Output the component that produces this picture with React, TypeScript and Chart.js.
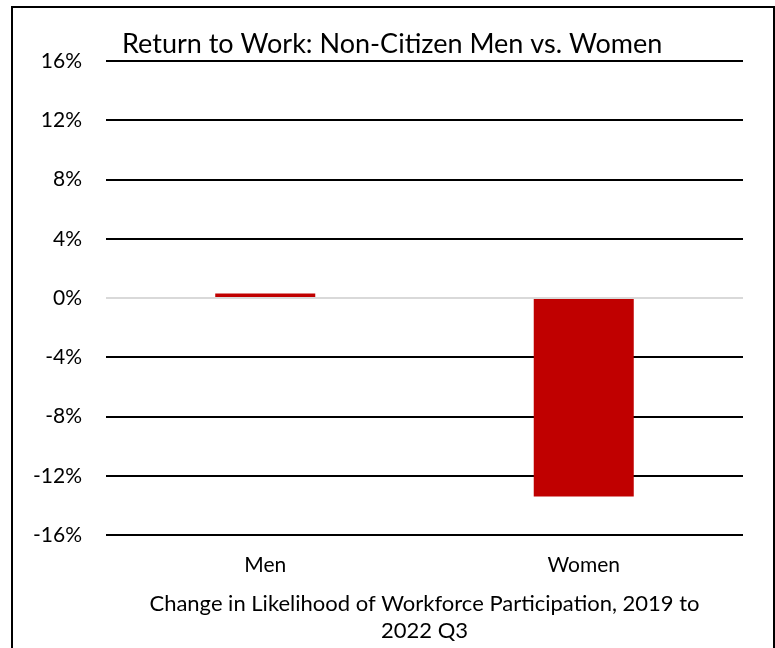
import React, { useEffect, useRef } from "react";
import { Chart, registerables } from "chart.js";

Chart.register(...registerables);

const categories = ["Men", "Women"];
const changeValues = [0.3, -13.4];
const yMin = -16;
const yMax = 16;
const yStep = 4;
const chartTitle = "Return to Work: Non-Citizen Men vs. Women";
const xAxisTitle = ["Change in Likelihood of Workforce Participation, 2019 to", "2022 Q3"];

const FONT = "Lato, 'Liberation Sans', sans-serif";

const titlePlugin = {
  id: "leftTitle",
  afterDraw(chart: any) {
    const { ctx, chartArea } = chart;
    ctx.save();
    ctx.font = `27px ${FONT}`;
    ctx.fillStyle = "#000";
    ctx.textAlign = "left";
    ctx.textBaseline = "alphabetic";
    ctx.fillText(chartTitle, chartArea.left + 16, chartArea.top - 8);
    ctx.restore();
  },
};

export default function App() {
  const ref = useRef<HTMLCanvasElement | null>(null);

  useEffect(() => {
    if (!ref.current) return;
    const chart = new Chart(ref.current, {
      type: "bar",
      data: {
        labels: categories,
        datasets: [
          {
            data: changeValues,
            backgroundColor: "#C00000",
            borderWidth: 0,
            categoryPercentage: 1,
            barPercentage: 0.314,
          },
        ],
      },
      options: {
        responsive: false,
        animation: false,
        layout: { padding: { top: 61, right: 32, bottom: 0, left: 0 } },
        plugins: {
          legend: { display: false },
          tooltip: { enabled: false },
          title: { display: false },
        },
        scales: {
          x: {
            grid: { display: false, drawTicks: false },
            border: { display: false },
            ticks: {
              color: "#000",
              font: { family: FONT, size: 21 },
              padding: 18,
            },
            title: {
              display: true,
              text: xAxisTitle,
              color: "#000",
              font: { family: FONT, size: 22, lineHeight: 1.24 },
              padding: { top: 0, bottom: 3 },
            },
            afterFit: (s: any) => {
              s.height = 113;
            },
          },
          y: {
            min: yMin,
            max: yMax,
            grid: {
              drawTicks: false,
              tickLength: 0,
              lineWidth: 2,
              color: (c: any) => (c.tick && c.tick.value === 0 ? "#D9D9D9" : "#000"),
            },
            border: { display: false },
            ticks: {
              stepSize: yStep,
              color: "#000",
              font: { family: FONT, size: 21 },
              padding: 24,
              callback: (v: any) => `${v}%`,
            },
            afterFit: (s: any) => {
              s.width = 106;
            },
          },
        },
      },
      plugins: [titlePlugin],
    });
    return () => chart.destroy();
  }, []);

  return (
    <div style={{ position: "absolute", left: 0, top: 0, width: 775, height: 648, overflow: "hidden", background: "#fff" }}>
      <canvas ref={ref} width={775} height={648} style={{ position: "absolute", left: 0, top: 0 }} />
      <div
        style={{
          position: "absolute",
          left: 11,
          top: 6,
          width: 764,
          height: 700,
          border: "2px solid #000",
          boxSizing: "border-box",
          pointerEvents: "none",
        }}
      />
    </div>
  );
}
